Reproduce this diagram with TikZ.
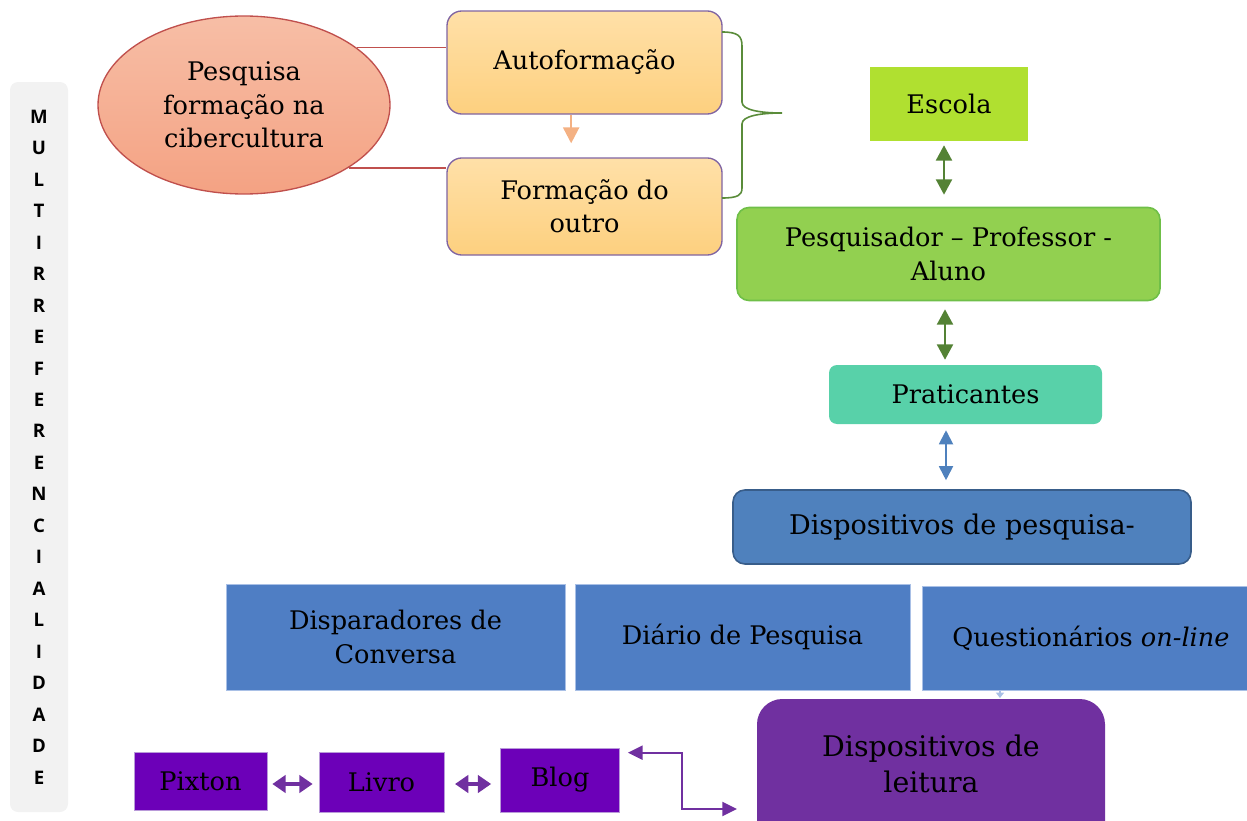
\documentclass[tikz,border=0pt]{standalone}
\usepackage{fontspec}
\setmainfont{DejaVu Serif}
\newfontfamily\sidefont{Open Sans}
\usetikzlibrary{arrows.meta,shapes.geometric,calc}
\definecolor{sidegray}{HTML}{F2F2F2}
\definecolor{elltop}{HTML}{F7BEA6}
\definecolor{ellbot}{HTML}{F4A283}
\definecolor{ellline}{HTML}{C0504D}
\definecolor{orgtop}{HTML}{FFE0A8}
\definecolor{orgbot}{HTML}{FDD07F}
\definecolor{orgline}{HTML}{8064A2}
\definecolor{orgarrow}{HTML}{F4B183}
\definecolor{bracecol}{HTML}{5A8C3A}
\definecolor{escolacol}{HTML}{B0E030}
\definecolor{darkgreen}{HTML}{548235}
\definecolor{pesqfill}{HTML}{92D050}
\definecolor{pesqline}{HTML}{6FBF48}
\definecolor{pratcol}{HTML}{58D1A9}
\definecolor{bluecol}{HTML}{4F81BD}
\definecolor{blueline}{HTML}{385D8A}
\definecolor{boxblue}{HTML}{4F7EC4}
\definecolor{boxblueline}{HTML}{A9C0E6}
\definecolor{leitcol}{HTML}{7030A0}
\definecolor{smallpurple}{HTML}{6C00B8}
\definecolor{smallline}{HTML}{B99AD9}
\begin{document}
\begin{tikzpicture}[x=0.75pt,y=-0.75pt,
  txt/.style={font=\fontsize{19.2}{25}\selectfont, align=center, text=black, inner sep=0pt},
  obox/.style={txt, draw=orgline, line width=1pt, top color=orgtop, bottom color=orgbot, rounded corners=11pt, minimum width=206.25pt},
  plainbox/.style={txt, draw=boxblueline, line width=0.5pt, fill=boxblue, minimum height=79.5pt},
  smallbox/.style={txt, draw=smallline, line width=0.5pt, fill=smallpurple},
  garrow/.style={draw=darkgreen, line width=1.6pt, {Triangle[width=12pt,length=11.5pt]}-{Triangle[width=12pt,length=11.5pt]}},
  barrow/.style={draw=bluecol, line width=1.4pt, {Triangle[width=10.5pt,length=10.5pt]}-{Triangle[width=10.5pt,length=10.5pt]}},
  fatarrow/.style={draw=leitcol, line width=3pt, {Triangle[width=13pt,length=10pt]}-{Triangle[width=13pt,length=10pt]}},
  parrow/.style={draw=leitcol, line width=1.5pt, {Triangle[width=10.5pt,length=11pt]}-{Triangle[width=10.5pt,length=11pt]}}
]
\useasboundingbox (0,0) rectangle (1247,821);

% side bar
\node[fill=sidegray, rounded corners=6pt, minimum width=43.5pt, minimum height=547.5pt,
  font=\sidefont\bfseries\fontsize{14}{23.6}\selectfont, align=center, inner sep=0pt] (side) at (39,447)
  {M\\U\\L\\T\\I\\R\\R\\E\\F\\E\\R\\E\\N\\C\\I\\A\\L\\I\\D\\A\\D\\E};

% ellipse
\node[ellipse, txt, draw=ellline, line width=1pt, top color=elltop, bottom color=ellbot,
  minimum width=219pt, minimum height=133.5pt] (ell) at (244,105) {Pesquisa\\formação na\\cibercultura};

% orange boxes
\node[obox, minimum height=77.25pt] (auto) at (584.5,62.5) {Autoformação};
\node[obox, minimum height=72.75pt] (form) at (584.5,206.5) {Formação do\\outro};

\draw[ellline, line width=1pt] (ell.27) -- (ell.27 -| auto.west);
\draw[ellline, line width=1pt] (ell.-31) -- (ell.-31 -| form.west);

\draw[draw=orgarrow, line width=1.8pt, -{Triangle[width=12pt,length=12pt]}, shorten >=10.5pt]
  ([xshift=-10pt]auto.south) -- ([xshift=-10pt]form.north);

% brace
\coordinate (bt) at (722,32);
\coordinate (bb) at (722,198);
\coordinate (btip) at (782,113);
\draw[bracecol, line width=1.2pt] (bt) .. controls (738,32) and (742,36) .. (742,46) -- (742,102)
  .. controls (742,110) and (760,113) .. (btip)
  .. controls (760,113) and (742,116) .. (742,124) -- (742,188)
  .. controls (742,195) and (738,198) .. (bb);

% right column
\node[txt, fill=escolacol, minimum width=118.5pt, minimum height=55.5pt] (escola) at (949,104) {Escola};
\node[txt, fill=pesqfill, draw=pesqline, line width=1.2pt, rounded corners=9pt,
  minimum width=317.25pt, minimum height=69.75pt] (pesq) at (948.5,254) {Pesquisador – Professor -\\Aluno};
\node[txt, fill=pratcol, rounded corners=6pt, minimum width=204.75pt, minimum height=44.25pt] (prat) at (965.5,394.5) {Praticantes};
\node[txt, font=\fontsize{20.3}{25}\selectfont, fill=bluecol, draw=blueline, line width=1.2pt, rounded corners=9pt,
  minimum width=343.5pt, minimum height=55.5pt] (disp) at (962,527) {Dispositivos de pesquisa-};

\coordinate (xa) at (944,0);
\coordinate (xb) at (945,0);
\coordinate (xc) at (946,0);
\draw[garrow, shorten <=3pt, shorten >=9pt] (escola.south -| xa) -- (pesq.north -| xa);
\draw[garrow, shorten <=6pt, shorten >=3.75pt] (pesq.south -| xb) -- (prat.north -| xb);
\draw[barrow, shorten <=4.5pt, shorten >=6.75pt] (prat.south -| xc) -- (disp.north -| xc);

% blue boxes
\node[plainbox, minimum width=254.25pt] (dispar) at (395.5,637) {Disparadores de\\Conversa};
\node[plainbox, minimum width=251.25pt] (diario) at (742.5,637) {Diário de Pesquisa};
\node[plainbox, minimum width=253.5pt, minimum height=78pt] (quest) at (1091,638) {Questionários \textit{on-line}};

% reading devices
\node[fill=leitcol, rounded corners=19pt, minimum width=261pt, minimum height=111pt, inner sep=0pt] (leit) at (931,773) {};
\node[txt, font=\fontsize{21.3}{27}\selectfont] (leittxt) at (931,764) {Dispositivos de\\leitura};

\coordinate (q1) at (1000,690);
\coordinate (q2) at (1000,698);
\draw[draw=boxblueline, line width=0.8pt, -{Triangle[width=6pt,length=4pt]}] (q1) -- (q2);

% small purple boxes
\node[smallbox, minimum width=99.75pt, minimum height=43.5pt] (pixton) at (200.5,781) {Pixton};
\node[smallbox, minimum width=93.75pt, minimum height=45pt] (livro) at (381.5,782) {Livro};
\node[smallbox, minimum width=89.25pt, minimum height=48pt] (blog) at (560,780) {Blog};

\coordinate (ya) at (0,784);
\draw[fatarrow, shorten <=3.75pt, shorten >=4.5pt] (pixton.east |- ya) -- (livro.west |- ya);
\draw[fatarrow, shorten <=8pt, shorten >=6.75pt] (livro.east |- ya) -- (blog.west |- ya);

\coordinate (e1) at ($(blog.north east)+(8,5)$);
\coordinate (e2) at (737,809);
\draw[parrow] (e1) -| (682,780) |- (e2);
\end{tikzpicture}
\end{document}
